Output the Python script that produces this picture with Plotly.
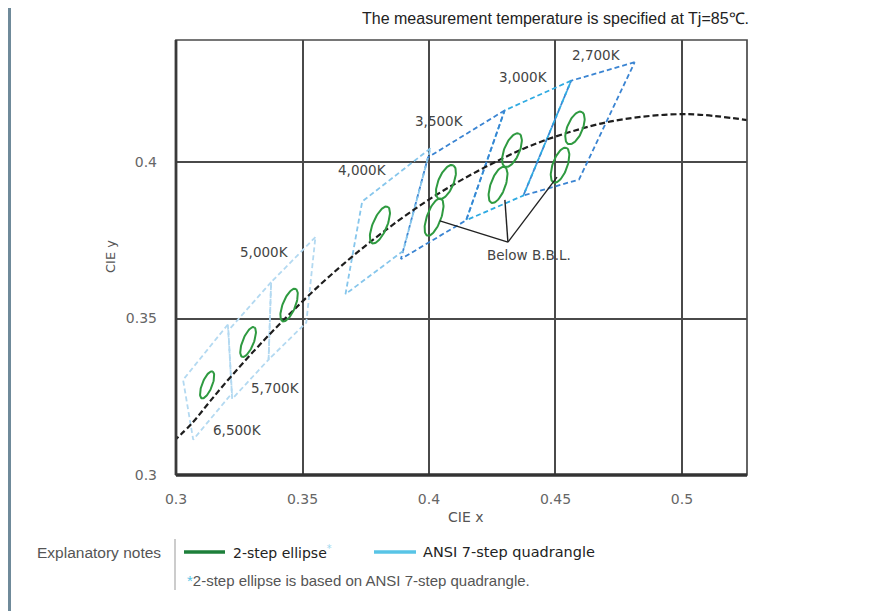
import numpy as np
import plotly.graph_objects as go

# ---------------- data ----------------
# Black-body (Planckian) locus
bbl_x = [0.2991, 0.3064, 0.3135, 0.3221, 0.3325, 0.3451, 0.3608, 0.3805, 0.4053, 0.4369, 0.4599, 0.4770, 0.5018, 0.5267]
bbl_y = [0.3108, 0.3166, 0.3236, 0.3318, 0.3411, 0.3516, 0.3636, 0.3768, 0.3907, 0.4041, 0.4106, 0.4137, 0.4153, 0.4133]

# ANSI 7-step quadrangles (corner x / y)
quad_names = ["2700K", "3000K", "3500K", "4000K", "5000K", "5700K", "6500K"]
quad_x = [
    [0.4813, 0.4562, 0.4373, 0.4593],
    [0.4562, 0.4299, 0.4147, 0.4373],
    [0.4299, 0.3996, 0.3889, 0.4147],
    [0.4006, 0.3736, 0.3670, 0.3898],
    [0.3551, 0.3376, 0.3366, 0.3515],
    [0.3376, 0.3207, 0.3222, 0.3366],
    [0.3205, 0.3028, 0.3068, 0.3221],
]
quad_y = [
    [0.4319, 0.4260, 0.3893, 0.3944],
    [0.4260, 0.4165, 0.3814, 0.3893],
    [0.4165, 0.4015, 0.3690, 0.3814],
    [0.4044, 0.3874, 0.3578, 0.3716],
    [0.3760, 0.3616, 0.3369, 0.3487],
    [0.3616, 0.3462, 0.3243, 0.3369],
    [0.3481, 0.3304, 0.3113, 0.3261],
]

# 2-step ellipses: centre, semi-axes, angle (deg)
ell_x = [0.3123, 0.3285, 0.3447, 0.3806, 0.4067, 0.4328, 0.4577, 0.4020, 0.4273, 0.4518]
ell_y = [0.3288, 0.3425, 0.3543, 0.3799, 0.3936, 0.4038, 0.4109, 0.3824, 0.3927, 0.3990]
ell_a = [0.0048, 0.0053, 0.0058, 0.0066, 0.0061, 0.0060, 0.0058, 0.0065, 0.0063, 0.0061]
ell_b = [0.0019, 0.0021, 0.0024, 0.0027, 0.0029, 0.0029, 0.0029, 0.0027, 0.0028, 0.0028]
ell_t = [62.0, 62.0, 62.0, 61.0, 60.0, 60.0, 60.0, 64.0, 64.0, 64.0]

# CCT labels
cct_text = ["2,700K", "3,000K", "3,500K", "4,000K", "5,000K", "5,700K", "6,500K"]
cct_x = [0.4664, 0.4375, 0.4043, 0.3739, 0.3348, 0.3395, 0.3245]
cct_y = [0.4342, 0.4272, 0.4131, 0.3974, 0.3712, 0.3278, 0.3144]

# "Below B.B.L." leader lines: apex and targets
bbl_note_x, bbl_note_y = 0.4312, 0.3744
leader_x = [0.4043, 0.4300, 0.4506]
leader_y = [0.3812, 0.3879, 0.3952]

x_ticks = [0.3, 0.35, 0.4, 0.45, 0.5]
x_ticktext = ["0.3", "0.35", "0.4", "0.45", "0.5"]
y_ticks = [0.3, 0.35, 0.4]
y_ticktext = ["0.3", "0.35", "0.4"]

# ---------------- figure ----------------
OFF = 8                      # page body margin
L, R, T, B = 176, 747, 40, 475   # plot area in screenshot pixels
W, H = 879 - OFF, 611 - OFF
fx = lambda px: (px - L) / (R - L)
fy = lambda py: (B - py) / (B - T)

fig = go.Figure()

quad_colors = ["#3a84d2", "#2eaae2", "#3a84d2", "#86c6ec", "#b3d9f1", "#b3d9f1", "#b3d9f1"]
for qx, qy, c in zip(quad_x, quad_y, quad_colors):
    fig.add_trace(go.Scatter(x=qx + [qx[0]], y=qy + [qy[0]], mode="lines",
                             line=dict(color=c, width=1.8, dash="5px,3px"),
                             hoverinfo="skip"))

fig.add_trace(go.Scatter(x=bbl_x, y=bbl_y, mode="lines",
                         line=dict(color="#1e1e1e", width=2.2, dash="6px,3px", shape="spline"),
                         hoverinfo="skip"))

t = np.linspace(0, 2 * np.pi, 80)
for cx, cy, a, b, th in zip(ell_x, ell_y, ell_a, ell_b, ell_t):
    r = np.deg2rad(th)
    ex = cx + a * np.cos(t) * np.cos(r) - b * np.sin(t) * np.sin(r)
    ey = cy + a * np.cos(t) * np.sin(r) + b * np.sin(t) * np.cos(r)
    fig.add_trace(go.Scatter(x=ex, y=ey, mode="lines",
                             line=dict(color="#2e9a40", width=2), hoverinfo="skip"))

lx, ly = [], []
for tx, ty in zip(leader_x, leader_y):
    lx += [bbl_note_x, tx, None]
    ly += [bbl_note_y, ty, None]
fig.add_trace(go.Scatter(x=lx, y=ly, mode="lines", line=dict(color="#222", width=1.4),
                         hoverinfo="skip"))

label_font = dict(family="DejaVu Sans, sans-serif", size=13.5, color="#444")
for txt, x, y in zip(cct_text, cct_x, cct_y):
    fig.add_annotation(x=x, y=y, text=txt, showarrow=False, font=label_font,
                       xanchor="center", yanchor="middle")
fig.add_annotation(x=bbl_note_x + 0.0085, y=bbl_note_y - 0.0041, text="Below B.B.L.", showarrow=False,
                   font=label_font, xanchor="center", yanchor="middle")

tick_font = dict(family="DejaVu Sans, sans-serif", size=14, color="#666")
axis_common = dict(showgrid=True, gridcolor="#4a4a4a", gridwidth=1.7, zeroline=False,
                   ticks="", tickfont=tick_font)
fig.update_xaxes(range=[0.3, 0.5257], tickvals=x_ticks, ticktext=x_ticktext,
                 ticklabelstandoff=14, **axis_common)
fig.update_yaxes(range=[0.3, 0.439], tickvals=y_ticks, ticktext=y_ticktext,
                 ticklabelstandoff=18, **axis_common)

shapes = [
    dict(type="rect", xref="paper", yref="paper", x0=0, x1=1, y0=0, y1=1,
         line=dict(color="#4a4a4a", width=1.7), layer="above"),
    dict(type="line", xref="paper", yref="paper", x0=0, x1=1, y0=0, y1=0,
         line=dict(color="#333", width=3.5), layer="above"),
    dict(type="line", xref="paper", yref="paper", x0=0, x1=0, y0=0, y1=1,
         line=dict(color="#3a3a3a", width=2.8), layer="above"),
    # left page border
    dict(type="rect", xref="paper", yref="paper", x0=fx(OFF), x1=fx(OFF + 3), y0=fy(620), y1=fy(0),
         line=dict(width=0), fillcolor="#6f8a9a"),
    # legend pieces
    dict(type="line", xref="paper", yref="paper", x0=fx(175), x1=fx(175), y0=fy(539), y1=fy(590),
         line=dict(color="#999", width=1)),
    dict(type="line", xref="paper", yref="paper", x0=fx(184), x1=fx(225), y0=fy(552), y1=fy(552),
         line=dict(color="#1d7f3a", width=3.5)),
    dict(type="line", xref="paper", yref="paper", x0=fx(374), x1=fx(416), y0=fy(552), y1=fy(552),
         line=dict(color="#58c4e6", width=3.5)),
]
fig.update_layout(shapes=shapes)

ann = [
    dict(x=fx(751), y=fy(19), text="The measurement temperature is specified at Tj=85℃.",
         xanchor="right", yanchor="middle", font=dict(family="Liberation Sans, Arial, sans-serif", size=16, color="#222")),
    dict(x=fx(466), y=fy(517), text="CIE x", xanchor="center", yanchor="middle",
         font=dict(family="DejaVu Sans, sans-serif", size=14, color="#555")),
    dict(x=fx(110), y=fy(257), text="CIE y", xanchor="center", yanchor="middle", textangle=-90,
         font=dict(family="DejaVu Sans, sans-serif", size=13, color="#555")),
    dict(x=fx(163), y=fy(552), text="Explanatory notes", xanchor="right", yanchor="middle",
         font=dict(family="Liberation Sans, Arial, sans-serif", size=15.5, color="#555")),
    dict(x=fx(231), y=fy(552), text="2-step ellipse<span style='color:#9fd9ef'><sup>*</sup></span>",
         xanchor="left", yanchor="middle",
         font=dict(family="DejaVu Sans, sans-serif", size=14, color="#222")),
    dict(x=fx(421), y=fy(552), text="ANSI 7-step quadrangle", xanchor="left", yanchor="middle",
         font=dict(family="DejaVu Sans, sans-serif", size=14.5, color="#222")),
    dict(x=fx(185), y=fy(580), text="<span style='color:#58c4e6'>*</span>2-step ellipse is based on ANSI 7-step quadrangle.",
         xanchor="left", yanchor="middle",
         font=dict(family="Liberation Sans, Arial, sans-serif", size=15, color="#555")),
]
for a in ann:
    fig.add_annotation(xref="paper", yref="paper", showarrow=False, **a)

fig.update_layout(width=W, height=H, margin=dict(l=L - OFF, r=W - (R - OFF), t=T - OFF, b=H - (B - OFF)),
                  plot_bgcolor="white", paper_bgcolor="white", showlegend=False)

fig.write_html("out.html")
